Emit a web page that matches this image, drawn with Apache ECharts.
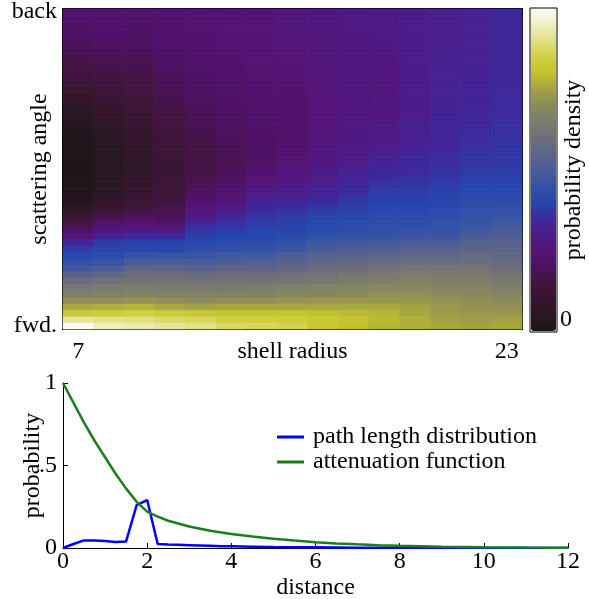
<!DOCTYPE html>
<html><head><meta charset="utf-8">
<script src="https://cdn.jsdelivr.net/npm/echarts@6/dist/echarts.min.js"></script>
<style>html,body{margin:0;padding:0;background:#fff}#c{width:589px;height:599px}</style>
</head><body><div id="c"></div>
<script>
// ---------- top panel: scattering density (columns = shell radius, rows from fwd to back) ----------
const radiusTickLabels = ['7', '23'];
const angleTickLabels = ['fwd.', 'back'];
const colorbarTickLabel = '0';

const col01 = [1.0,.92,.83,.76,.71,.66,.63,.59,.54,.48,.44,.41,.38,.34,.26,.21,.16,.11,.07,.04,.025,.018,.014,.012,.01,.01,.01,.01,.012,.015,.02,.025,.035,.045,.06,.075,.09,.11,.125,.14,.15,.16,.17,.18,.19,.2,.2,.21,.22,.22];
const col02 = [.95,.91,.84,.77,.71,.67,.64,.61,.56,.51,.46,.42,.41,.38,.33,.27,.22,.17,.13,.1,.08,.065,.055,.05,.045,.045,.045,.045,.05,.055,.06,.07,.08,.09,.1,.11,.12,.13,.14,.15,.16,.17,.18,.19,.2,.21,.22,.22,.23,.23];
const col03 = [.94,.9,.85,.78,.72,.68,.65,.62,.59,.55,.5,.45,.41,.39,.35,.28,.24,.2,.16,.13,.11,.1,.09,.085,.08,.08,.08,.08,.085,.09,.095,.1,.11,.12,.125,.13,.14,.15,.155,.16,.17,.175,.18,.19,.2,.2,.21,.21,.22,.22];
const col04 = [.93,.88,.84,.76,.71,.67,.64,.62,.59,.55,.51,.46,.41,.39,.35,.28,.22,.19,.17,.155,.14,.13,.125,.12,.12,.12,.12,.12,.125,.13,.135,.14,.15,.155,.16,.17,.175,.18,.19,.19,.2,.2,.21,.21,.22,.22,.23,.23,.23,.24];
const col05 = [.91,.87,.82,.75,.7,.67,.64,.62,.58,.54,.5,.46,.43,.41,.39,.37,.34,.29,.26,.24,.22,.2,.18,.17,.16,.155,.155,.155,.16,.165,.17,.175,.18,.185,.19,.195,.2,.2,.21,.21,.215,.22,.22,.225,.23,.23,.23,.235,.235,.24];
const col06 = [.88,.85,.81,.76,.71,.67,.64,.62,.59,.55,.51,.48,.44,.42,.4,.38,.36,.34,.3,.27,.24,.22,.21,.2,.19,.185,.18,.18,.185,.19,.19,.195,.2,.2,.205,.21,.21,.215,.22,.22,.225,.23,.23,.235,.235,.24,.24,.24,.24,.24];
const col07 = [.87,.85,.81,.76,.71,.68,.65,.62,.59,.55,.52,.48,.45,.43,.41,.4,.38,.37,.35,.33,.31,.29,.27,.25,.23,.22,.21,.21,.205,.205,.21,.21,.215,.215,.22,.22,.225,.23,.23,.235,.235,.24,.24,.24,.245,.245,.245,.245,.245,.245];
const col08 = [.86,.84,.81,.76,.72,.69,.66,.63,.6,.57,.54,.51,.47,.44,.42,.4,.39,.38,.36,.34,.32,.3,.29,.27,.26,.25,.24,.23,.225,.22,.22,.22,.22,.22,.22,.22,.225,.23,.235,.24,.24,.245,.25,.25,.255,.255,.26,.26,.26,.26];
const col09 = [.82,.82,.8,.76,.73,.69,.67,.64,.61,.59,.56,.53,.5,.47,.44,.42,.41,.4,.38,.36,.34,.33,.31,.3,.29,.28,.27,.265,.26,.255,.255,.25,.25,.25,.25,.25,.25,.255,.255,.255,.26,.26,.26,.26,.26,.265,.265,.265,.27,.27];
const col10 = [.8,.81,.79,.76,.73,.7,.68,.65,.63,.6,.57,.54,.51,.48,.45,.43,.42,.41,.39,.38,.37,.35,.34,.33,.32,.31,.3,.29,.29,.28,.28,.28,.275,.275,.27,.27,.27,.27,.27,.27,.27,.27,.27,.275,.275,.275,.28,.28,.28,.28];
const col11 = [.78,.79,.78,.76,.73,.71,.69,.66,.64,.61,.58,.55,.52,.49,.46,.44,.43,.42,.41,.4,.39,.38,.37,.35,.34,.33,.32,.31,.3,.3,.29,.29,.28,.27,.27,.26,.26,.26,.26,.26,.265,.27,.27,.275,.28,.28,.285,.29,.29,.29];
const col12 = [.77,.77,.76,.75,.73,.71,.69,.67,.65,.62,.59,.56,.53,.5,.47,.45,.43,.42,.41,.4,.39,.38,.37,.36,.35,.34,.34,.33,.32,.32,.31,.31,.31,.3,.3,.3,.3,.3,.3,.3,.3,.3,.3,.3,.3,.3,.3,.3,.3,.3];
const col13 = [.76,.75,.74,.73,.72,.7,.68,.66,.64,.62,.59,.56,.53,.5,.47,.45,.44,.43,.42,.41,.4,.39,.38,.37,.36,.36,.35,.35,.34,.34,.34,.33,.33,.33,.33,.32,.32,.32,.32,.32,.32,.315,.315,.315,.31,.31,.31,.31,.31,.31];
const col14 = [.75,.74,.73,.72,.71,.69,.68,.66,.64,.62,.6,.58,.55,.53,.5,.48,.46,.45,.44,.43,.42,.41,.4,.39,.38,.375,.37,.365,.36,.355,.35,.345,.34,.34,.335,.33,.33,.33,.325,.325,.32,.32,.32,.32,.32,.32,.32,.32,.32,.32];
const col15 = [.76,.75,.73,.71,.7,.68,.66,.64,.62,.6,.58,.56,.55,.53,.51,.5,.48,.46,.45,.43,.42,.41,.4,.39,.385,.38,.375,.37,.37,.365,.36,.36,.355,.35,.35,.35,.345,.345,.34,.34,.34,.34,.34,.34,.34,.34,.34,.34,.34,.34];
const densityColumns = [col01,col02,col03,col04,col05,col06,col07,col08,col09,col10,col11,col12,col13,col14,col15];

// ---------- bottom panel ----------
const pathX = [0,0.25,0.5,0.75,1,1.25,1.5,1.75,2,2.25,2.5,2.75,3,3.25,3.5,3.75,4,4.5,5,5.5,6,6.5,7,7.5,8,8.5,9,9.5,10,10.5,11,11.5,12];
const pathY = [0,0.024,0.046,0.046,0.043,0.037,0.04,0.26,0.29,0.024,0.021,0.019,0.017,0.015,0.013,0.011,0.01,0.008,0.006,0.005,0.004,0.003,0.002,0.002,0.0015,0.001,0.001,0.0008,0.0006,0.0005,0.0004,0.0003,0.0002];
const attenX = [0,0.25,0.5,0.75,1,1.25,1.5,1.75,2,2.25,2.5,3,3.5,4,4.5,5,5.5,6,6.5,7,7.5,8,9,10,11,12];
const attenY = [1,0.88,0.76,0.65,0.55,0.45,0.36,0.28,0.22,0.19,0.165,0.13,0.105,0.085,0.07,0.056,0.045,0.035,0.028,0.022,0.017,0.013,0.008,0.005,0.003,0.002];
const yTickText = {0:'0', 0.5:'.5', 1:'1'};

const nCols = densityColumns.length, nRows = col01.length;
const heatData = [];
densityColumns.forEach((col, c) => col.forEach((v, r) => heatData.push([c, r, v])));
const xCats = Array.from({length: nCols}, (_, i) => String(i));
const yCats = Array.from({length: nRows}, (_, i) => String(i));

const F = 'Liberation Serif';
const FS = 24;
const cmap = ['#1c1416','#281822','#36162e','#43143f','#4d1262','#541478','#4c1c8a','#3c2a9e','#2646ae','#3452a8','#4a5c98','#5e6488','#6e6e7a','#7c7c6c','#8a8a5c','#a2a244','#c2c22c','#d0d040','#e0e080','#eeeebe','#fcfcf6'];
const txt = {fontFamily: F, fontSize: FS, color: '#000'};

const chart = echarts.init(document.getElementById('c'), null, {renderer: 'canvas'});
chart.setOption({
  animation: false,
  textStyle: {fontFamily: F},
  grid: [
    {left: 63, top: 9, width: 459, height: 320, show: true, borderColor: '#000', borderWidth: 2, backgroundColor: 'transparent', outerBoundsMode: 'none', containLabel: false},
    {left: 63, top: 383, right: 21, bottom: 51, outerBoundsMode: 'none', containLabel: false},
    {left: 530, top: 8, width: 27, height: 324, show: true, borderColor: '#000', borderWidth: 1, backgroundColor: 'transparent', outerBoundsMode: 'none', containLabel: false}
  ],
  xAxis: [
    {gridIndex: 0, type: 'category', data: xCats, name: 'shell radius', nameLocation: 'middle', nameGap: 11, nameMoveOverlap: false,
     nameTextStyle: Object.assign({verticalAlign: 'top'}, txt),
     axisLine: {show: false}, axisTick: {show: false},
     axisLabel: Object.assign({interval: 0, margin: 11, hideOverlap: false,
       formatter: (v, i) => i === 0 ? radiusTickLabels[0] : (i === nCols - 1 ? radiusTickLabels[1] : '')}, txt)},
    {gridIndex: 1, type: 'value', min: 0, max: 12, interval: 2, name: 'distance', nameLocation: 'middle', nameGap: 28, nameMoveOverlap: false,
     nameTextStyle: Object.assign({verticalAlign: 'top'}, txt),
     axisLine: {show: true, lineStyle: {color: '#000', width: 1}},
     axisTick: {show: true, inside: true, length: 5, lineStyle: {color: '#000'}},
     splitLine: {show: false},
     axisLabel: Object.assign({margin: 2}, txt)},
    {gridIndex: 2, type: 'value', show: false}
  ],
  yAxis: [
    {gridIndex: 0, type: 'category', data: yCats, name: 'scattering angle', nameLocation: 'middle', nameGap: 11, nameRotate: 90, nameMoveOverlap: false,
     nameTextStyle: txt,
     axisLine: {show: false}, axisTick: {show: false},
     axisLabel: Object.assign({interval: 0, margin: 6, hideOverlap: false,
       formatter: (v, i) => i === 0 ? angleTickLabels[0] : (i === nRows - 1 ? angleTickLabels[1] : '')}, txt)},
    {gridIndex: 1, type: 'value', min: 0, max: 1, interval: 0.5, name: 'probability', nameLocation: 'middle', nameGap: 18, nameRotate: 90, nameMoveOverlap: false,
     nameTextStyle: txt,
     axisLine: {show: true, lineStyle: {color: '#000', width: 1}},
     axisTick: {show: true, inside: true, length: 5, lineStyle: {color: '#000'}},
     splitLine: {show: false},
     axisLabel: Object.assign({margin: 6, formatter: v => yTickText[v] ?? ''}, txt)},
    {gridIndex: 2, type: 'value', min: 0, max: 1, position: 'right', name: 'probability density', nameLocation: 'middle', nameGap: 5, nameRotate: 90, nameMoveOverlap: false,
     nameTextStyle: txt,
     axisLine: {show: false}, axisTick: {show: false}, splitLine: {show: false},
     axisLabel: Object.assign({margin: 3, verticalAlign: 'bottom', formatter: v => v === 0 ? colorbarTickLabel : ''}, txt)}
  ],
  visualMap: {
    type: 'continuous', seriesIndex: 0, dimension: 2, min: 0, max: 1, calculable: false, hoverLink: false,
    orient: 'vertical', left: 531, top: 9, itemWidth: 25, itemHeight: 322, padding: 0, text: null, showLabel: false,
    inRange: {color: cmap}
  },
  legend: {
    orient: 'vertical', left: 272, top: 420, itemWidth: 27, itemHeight: 3, itemGap: 1, icon: 'rect',
    textStyle: Object.assign({padding: [0, 0, 0, 4]}, txt),
    data: ['path length distribution', 'attenuation function']
  },
  series: [
    {type: 'custom', xAxisIndex: 0, yAxisIndex: 0, data: heatData, encode: {x: 0, y: 1},
     renderItem: (params, api) => {
       const p = api.coord([api.value(0), api.value(1)]);
       const s = api.size([1, 1]);
       const col = api.visual('color');
       return {type: 'rect', shape: {x: p[0] - s[0] / 2, y: p[1] - s[1] / 2, width: s[0], height: s[1]},
               style: {fill: col, stroke: col, lineWidth: 0.8}};
     }},
    {type: 'line', name: 'path length distribution', xAxisIndex: 1, yAxisIndex: 1,
     data: pathX.map((x, i) => [x, pathY[i]]), showSymbol: false, lineStyle: {color: '#0000ff', width: 2.5}, itemStyle: {color: '#0000ff'}},
    {type: 'line', name: 'attenuation function', xAxisIndex: 1, yAxisIndex: 1,
     data: attenX.map((x, i) => [x, attenY[i]]), showSymbol: false, lineStyle: {color: '#1a7f1a', width: 2.5}, itemStyle: {color: '#1a7f1a'}}
  ]
});
</script></body></html>
